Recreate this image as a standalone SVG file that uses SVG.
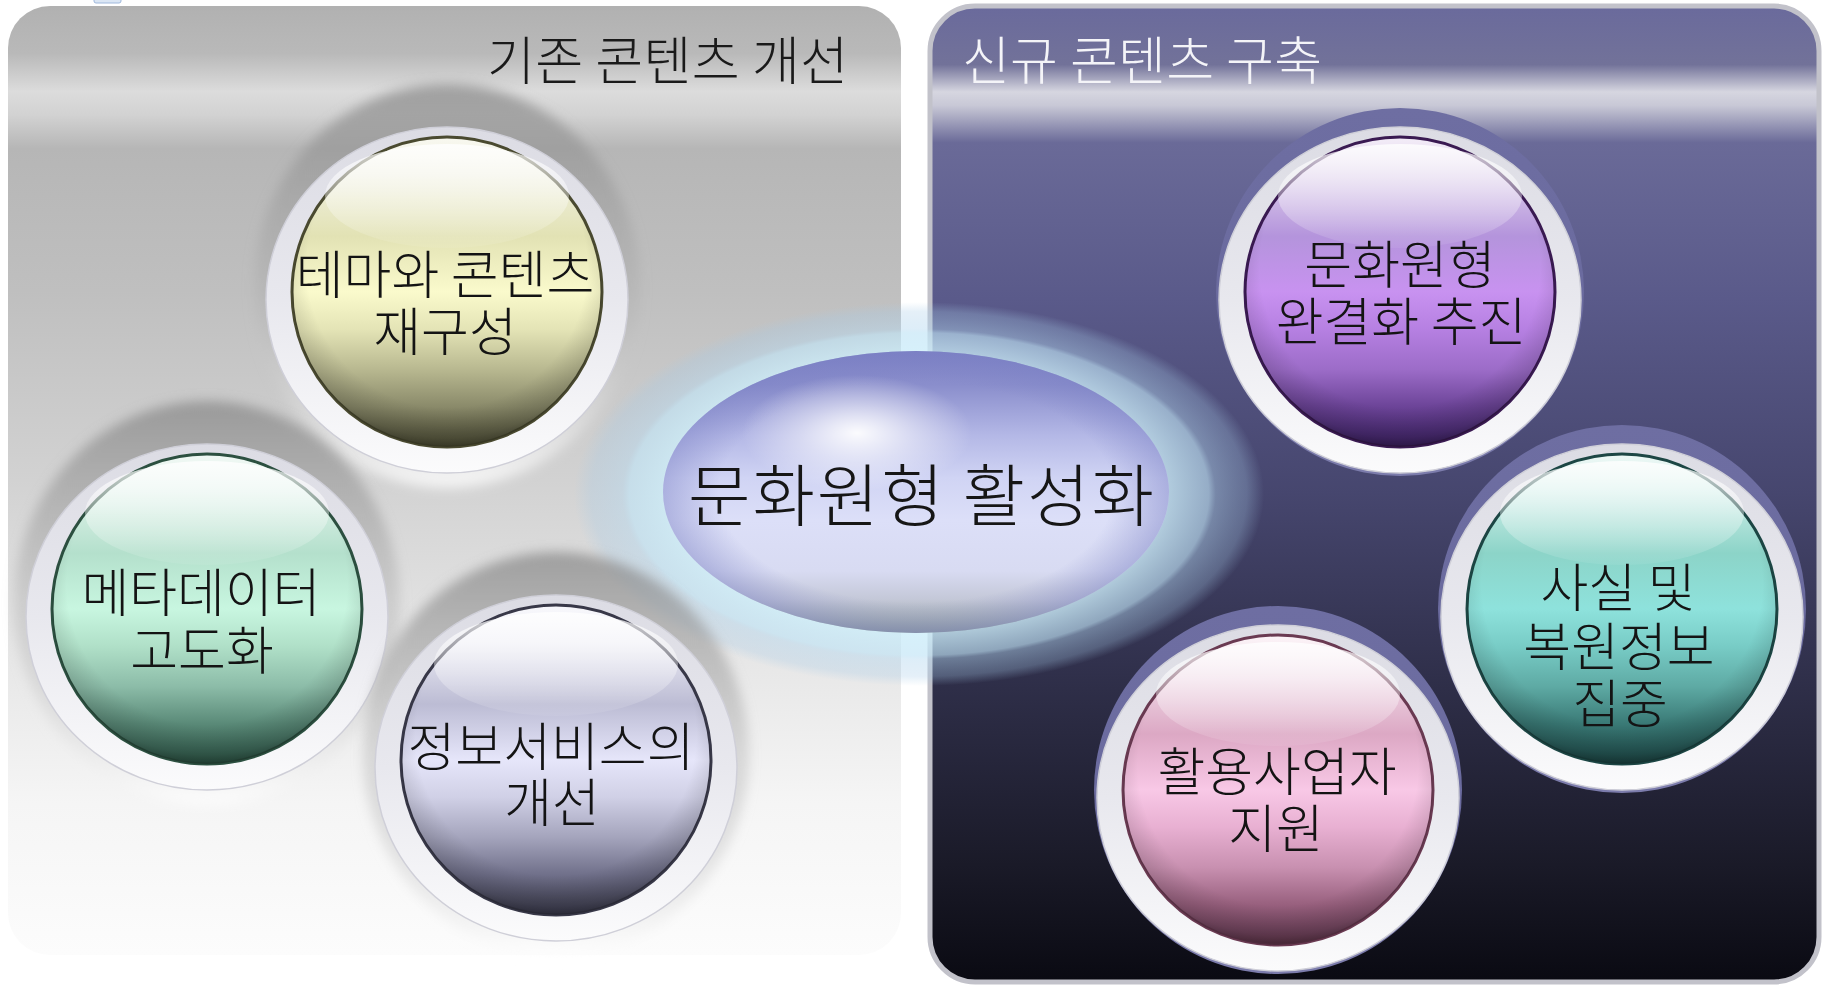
<svg xmlns="http://www.w3.org/2000/svg" width="1824" height="987" viewBox="0 0 1824 987">
<style>
text{font-family:"Noto Sans CJK KR","Noto Sans KR",sans-serif;font-weight:300;}
.lbl{font-size:52px;fill:#141414;text-anchor:middle;}
.ttl{font-size:52px;}
.ring{fill:url(#ring);stroke:#cfcfd8;stroke-width:1.5;}
.gloss{fill:url(#gloss);}
.shade{fill:url(#shade);}
.haloL{fill:url(#haloL);filter:url(#blur);}
.haloR{fill:url(#haloR);}
</style>
<defs>
<filter id="blur" x="-20%" y="-20%" width="140%" height="140%"><feGaussianBlur stdDeviation="6"/></filter>
<linearGradient id="panelL" x1="0" y1="0" x2="0" y2="1">
<stop offset="0" stop-color="#b1b1b1"/>
<stop offset="0.05" stop-color="#b9b9b9"/>
<stop offset="0.09" stop-color="#dcdcdc"/>
<stop offset="0.115" stop-color="#d2d2d2"/>
<stop offset="0.15" stop-color="#b6b6b6"/>
<stop offset="0.3" stop-color="#bfbfbf"/>
<stop offset="0.5" stop-color="#d2d2d2"/>
<stop offset="0.68" stop-color="#e6e6e6"/>
<stop offset="0.84" stop-color="#f5f5f5"/>
<stop offset="1" stop-color="#fcfcfc"/>
</linearGradient>
<linearGradient id="panelR" x1="0" y1="0" x2="0" y2="1">
<stop offset="0" stop-color="#6a6a9c"/>
<stop offset="0.06" stop-color="#727299"/>
<stop offset="0.088" stop-color="#d6d6e0"/>
<stop offset="0.102" stop-color="#c8c8d6"/>
<stop offset="0.14" stop-color="#6a6a98"/>
<stop offset="0.3" stop-color="#5a5a8a"/>
<stop offset="0.5" stop-color="#46466e"/>
<stop offset="0.7" stop-color="#2e2e48"/>
<stop offset="0.88" stop-color="#1a1a28"/>
<stop offset="1" stop-color="#0a0a12"/>
</linearGradient>
<radialGradient id="glow" cx="0.5" cy="0.5" r="0.5">
<stop offset="0" stop-color="#cdeefa" stop-opacity="0.8"/>
<stop offset="0.72" stop-color="#cdeefa" stop-opacity="0.8"/>
<stop offset="0.84" stop-color="#c0e4f6" stop-opacity="0.65"/>
<stop offset="0.86" stop-color="#b4d8f0" stop-opacity="0.45"/>
<stop offset="0.95" stop-color="#a8cce8" stop-opacity="0.3"/>
<stop offset="1" stop-color="#a8cce8" stop-opacity="0"/>
</radialGradient>
<linearGradient id="centerFill" x1="0" y1="0" x2="0" y2="1">
<stop offset="0" stop-color="#7c80c4"/>
<stop offset="0.12" stop-color="#8a8ecc"/>
<stop offset="0.3" stop-color="#b4b8e6"/>
<stop offset="0.45" stop-color="#d0d4f4"/>
<stop offset="0.6" stop-color="#dcdff8"/>
<stop offset="0.78" stop-color="#d8dbf2"/>
<stop offset="0.88" stop-color="#c4c8d8"/>
<stop offset="0.95" stop-color="#a8b2b4"/>
<stop offset="1" stop-color="#8e9c98"/>
</linearGradient>
<radialGradient id="centerEdge" cx="0.5" cy="0.5" r="0.5">
<stop offset="0" stop-color="#7a80c4" stop-opacity="0"/>
<stop offset="0.78" stop-color="#7a80c4" stop-opacity="0"/>
<stop offset="1" stop-color="#7a80c4" stop-opacity="0.45"/>
</radialGradient>
<radialGradient id="hl" cx="0.5" cy="0.5" r="0.5">
<stop offset="0" stop-color="#ffffff" stop-opacity="0.95"/>
<stop offset="0.5" stop-color="#ffffff" stop-opacity="0.45"/>
<stop offset="1" stop-color="#ffffff" stop-opacity="0"/>
</radialGradient>
<linearGradient id="haloL" x1="0" y1="0" x2="0" y2="1">
<stop offset="0" stop-color="#858585" stop-opacity="0.7"/>
<stop offset="0.5" stop-color="#a8a8a8" stop-opacity="0.35"/>
<stop offset="1" stop-color="#ffffff" stop-opacity="0.8"/>
</linearGradient>
<linearGradient id="haloR" x1="0" y1="0" x2="0" y2="1">
<stop offset="0" stop-color="#6e6ea2"/>
<stop offset="0.6" stop-color="#6a6a9e"/>
<stop offset="1" stop-color="#7c7cac"/>
</linearGradient>
<linearGradient id="ring" x1="0" y1="0" x2="0" y2="1">
<stop offset="0" stop-color="#dcdce4"/>
<stop offset="0.5" stop-color="#e8e8ee"/>
<stop offset="1" stop-color="#fbfbfc"/>
</linearGradient>
<linearGradient id="gloss" x1="0" y1="0" x2="0" y2="1">
<stop offset="0" stop-color="#ffffff" stop-opacity="0.8"/>
<stop offset="0.5" stop-color="#ffffff" stop-opacity="0.4"/>
<stop offset="1" stop-color="#ffffff" stop-opacity="0.06"/>
</linearGradient>
<radialGradient id="shade" cx="0.5" cy="0.42" r="0.58">
<stop offset="0" stop-color="#000000" stop-opacity="0"/>
<stop offset="0.78" stop-color="#000000" stop-opacity="0"/>
<stop offset="0.95" stop-color="#000000" stop-opacity="0.16"/>
<stop offset="1" stop-color="#000000" stop-opacity="0.28"/>
</radialGradient>
<linearGradient id="gY" x1="0" y1="0" x2="0" y2="1">
<stop offset="0" stop-color="#f8f8f0"/><stop offset="0.12" stop-color="#f0f0e0"/><stop offset="0.32" stop-color="#e2e2b4"/><stop offset="0.5" stop-color="#fafacc"/><stop offset="0.62" stop-color="#e4e4b6"/><stop offset="0.75" stop-color="#b8b890"/><stop offset="0.87" stop-color="#8a8a6a"/><stop offset="0.95" stop-color="#626248"/><stop offset="1" stop-color="#4c4c34"/>
</linearGradient>
<linearGradient id="gG" x1="0" y1="0" x2="0" y2="1">
<stop offset="0" stop-color="#f0f8f4"/><stop offset="0.12" stop-color="#e0f2ea"/><stop offset="0.32" stop-color="#b4e0cc"/><stop offset="0.5" stop-color="#c8f6e0"/><stop offset="0.62" stop-color="#b0e0c8"/><stop offset="0.75" stop-color="#8cbca8"/><stop offset="0.87" stop-color="#5a8a78"/><stop offset="0.95" stop-color="#3e6a5a"/><stop offset="1" stop-color="#2c5444"/>
</linearGradient>
<linearGradient id="gP" x1="0" y1="0" x2="0" y2="1">
<stop offset="0" stop-color="#f8f8fc"/><stop offset="0.12" stop-color="#ececf4"/><stop offset="0.32" stop-color="#bcbcd4"/><stop offset="0.5" stop-color="#e6e6fa"/><stop offset="0.62" stop-color="#d0d0e6"/><stop offset="0.75" stop-color="#a4a4bc"/><stop offset="0.87" stop-color="#70708a"/><stop offset="0.95" stop-color="#4e4e62"/><stop offset="1" stop-color="#3a3a4c"/>
</linearGradient>
<linearGradient id="gV" x1="0" y1="0" x2="0" y2="1">
<stop offset="0" stop-color="#f4eef8"/><stop offset="0.12" stop-color="#dccdea"/><stop offset="0.32" stop-color="#b494dc"/><stop offset="0.5" stop-color="#c892f0"/><stop offset="0.62" stop-color="#b680e2"/><stop offset="0.75" stop-color="#9c6cc8"/><stop offset="0.87" stop-color="#6c4498"/><stop offset="0.95" stop-color="#4e2e78"/><stop offset="1" stop-color="#3c2060"/>
</linearGradient>
<linearGradient id="gT" x1="0" y1="0" x2="0" y2="1">
<stop offset="0" stop-color="#eef8f6"/><stop offset="0.12" stop-color="#cfeee8"/><stop offset="0.32" stop-color="#8cd4c8"/><stop offset="0.5" stop-color="#8ee2dc"/><stop offset="0.62" stop-color="#78ccc6"/><stop offset="0.75" stop-color="#5eaaa4"/><stop offset="0.87" stop-color="#3a7a76"/><stop offset="0.95" stop-color="#285c5a"/><stop offset="1" stop-color="#1c4644"/>
</linearGradient>
<linearGradient id="gK" x1="0" y1="0" x2="0" y2="1">
<stop offset="0" stop-color="#fcf4f8"/><stop offset="0.12" stop-color="#f0dce8"/><stop offset="0.32" stop-color="#dca8c4"/><stop offset="0.5" stop-color="#f8c8e6"/><stop offset="0.62" stop-color="#e8b0d2"/><stop offset="0.75" stop-color="#c890b0"/><stop offset="0.87" stop-color="#98607e"/><stop offset="0.95" stop-color="#744660"/><stop offset="1" stop-color="#5e3448"/>
</linearGradient>
</defs>

<rect width="1824" height="987" fill="#ffffff"/>

<g id="panel-left">
<rect x="8" y="6" width="893" height="949" rx="42" fill="url(#panelL)"/>
<text class="ttl" x="487" y="80" textLength="361" fill="#1a1a1a">기존 콘텐츠 개선</text>
</g>

<g id="panel-right">
<rect x="930" y="6" width="889" height="976" rx="45" fill="url(#panelR)" stroke="#c2c2ca" stroke-width="5"/>
<text class="ttl" x="962" y="80" textLength="360" fill="#f4f4f8">신규 콘텐츠 구축</text>
</g>

<rect x="94" y="-2" width="27" height="5" rx="2" fill="#dbe6f4" stroke="#9fb8dc" stroke-width="1"/>

<g id="connectors"></g>

<g id="center-glow">
<ellipse cx="919" cy="494" rx="345" ry="192" fill="url(#glow)"/>
</g>

<g id="node-theme">
<ellipse class="haloL" cx="447" cy="286" rx="193" ry="202"/>
<ellipse class="ring" cx="447" cy="300" rx="181" ry="173"/>
<circle cx="447" cy="292" r="155" fill="url(#gY)" stroke="#4a4a30" stroke-width="3"/>
<circle class="shade" cx="447" cy="292" r="155"/>
<ellipse class="gloss" cx="447" cy="196" rx="122" ry="52"/>
<text class="lbl"><tspan x="445" y="294">테마와 콘텐츠</tspan><tspan x="445" y="351">재구성</tspan></text>
</g>

<g id="node-metadata">
<ellipse class="haloL" cx="207" cy="603" rx="193" ry="202"/>
<ellipse class="ring" cx="207" cy="617" rx="181" ry="173"/>
<circle cx="207" cy="609" r="155" fill="url(#gG)" stroke="#2c5040" stroke-width="3"/>
<circle class="shade" cx="207" cy="609" r="155"/>
<ellipse class="gloss" cx="207" cy="513" rx="122" ry="52"/>
<text class="lbl"><tspan x="201" y="612">메타데이터</tspan><tspan x="202" y="670">고도화</tspan></text>
</g>

<g id="node-infoservice">
<ellipse class="haloL" cx="556" cy="754" rx="193" ry="202"/>
<ellipse class="ring" cx="556" cy="768" rx="181" ry="173"/>
<circle cx="556" cy="760" r="155" fill="url(#gP)" stroke="#383848" stroke-width="3"/>
<circle class="shade" cx="556" cy="760" r="155"/>
<ellipse class="gloss" cx="556" cy="664" rx="122" ry="52"/>
<text class="lbl"><tspan x="551" y="766">정보서비스의</tspan><tspan x="552" y="822">개선</tspan></text>
</g>

<g id="node-archetype">
<ellipse class="haloR" cx="1400" cy="292" rx="184" ry="184"/>
<ellipse class="ring" cx="1400" cy="300" rx="181" ry="173"/>
<circle cx="1400" cy="292" r="155" fill="url(#gV)" stroke="#3a1a52" stroke-width="3"/>
<circle class="shade" cx="1400" cy="292" r="155"/>
<ellipse class="gloss" cx="1400" cy="196" rx="122" ry="52"/>
<text class="lbl"><tspan x="1400" y="284">문화원형</tspan><tspan x="1401" y="341">완결화 추진</tspan></text>
</g>

<g id="node-facts">
<ellipse class="haloR" cx="1622" cy="609" rx="184" ry="184"/>
<ellipse class="ring" cx="1622" cy="617" rx="181" ry="173"/>
<circle cx="1622" cy="609" r="155" fill="url(#gT)" stroke="#1c4644" stroke-width="3"/>
<circle class="shade" cx="1622" cy="609" r="155"/>
<ellipse class="gloss" cx="1622" cy="513" rx="122" ry="52"/>
<text class="lbl"><tspan x="1618" y="607">사실 및</tspan><tspan x="1619" y="666">복원정보</tspan><tspan x="1620" y="723">집중</tspan></text>
</g>

<g id="node-business">
<ellipse class="haloR" cx="1278" cy="790" rx="184" ry="184"/>
<ellipse class="ring" cx="1278" cy="798" rx="181" ry="173"/>
<circle cx="1278" cy="790" r="155" fill="url(#gK)" stroke="#6a3a52" stroke-width="3"/>
<circle class="shade" cx="1278" cy="790" r="155"/>
<ellipse class="gloss" cx="1278" cy="694" rx="122" ry="52"/>
<text class="lbl"><tspan x="1277" y="791">활용사업자</tspan><tspan x="1276" y="848">지원</tspan></text>
</g>

<g id="node-center">
<ellipse cx="916" cy="492" rx="253" ry="141" fill="url(#centerFill)"/>
<ellipse cx="916" cy="492" rx="253" ry="141" fill="url(#centerEdge)"/>
<ellipse cx="857" cy="433" rx="115" ry="58" fill="url(#hl)"/>
<text x="688" y="521" font-size="68" textLength="466" fill="#161616">문화원형 활성화</text>
</g>
</svg>
